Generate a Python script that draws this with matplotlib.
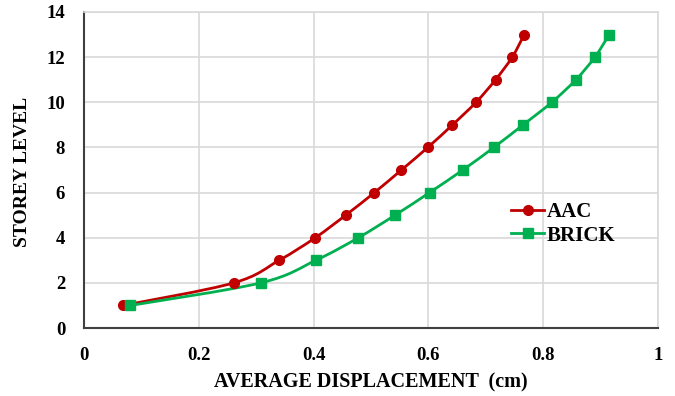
import matplotlib.pyplot as plt
import numpy as np
from matplotlib.path import Path
from matplotlib.patches import PathPatch
from matplotlib.lines import Line2D

plt.rcParams['font.family'] = 'Liberation Serif'
plt.rcParams['font.weight'] = 'bold'

storey = [1, 2, 3, 4, 5, 6, 7, 8, 9, 10, 11, 12, 13]
aac = [0.068, 0.261, 0.340, 0.403, 0.456, 0.506, 0.553, 0.599, 0.642, 0.683, 0.717, 0.746, 0.767]
brick = [0.081, 0.308, 0.404, 0.478, 0.542, 0.602, 0.660, 0.714, 0.765, 0.815, 0.857, 0.890, 0.915]

red = '#C00000'
green = '#00B050'


def smooth_path(x, y):
    # cardinal spline through the points, drawn as cubic bezier segments
    x = np.asarray(x, float)
    y = np.asarray(y, float)
    n = len(x)
    verts = [(x[0], y[0])]
    codes = [Path.MOVETO]
    t = 1 / 6
    for i in range(n - 1):
        x0, y0 = (x[i - 1], y[i - 1]) if i > 0 else (x[i], y[i])
        x3, y3 = (x[i + 2], y[i + 2]) if i + 2 < n else (x[i + 1], y[i + 1])
        c1 = (x[i] + (x[i + 1] - x0) * t, y[i] + (y[i + 1] - y0) * t)
        c2 = (x[i + 1] - (x3 - x[i]) * t, y[i + 1] - (y3 - y[i]) * t)
        verts += [c1, c2, (x[i + 1], y[i + 1])]
        codes += [Path.CURVE4] * 3
    return Path(verts, codes)


fig = plt.figure(figsize=(6.75, 3.96), dpi=100)
ax = fig.add_axes([0.1244, 0.1717, 0.8504, 0.798])

for xs, c, m, ms in [(aac, red, 'o', 7), (brick, green, 's', 6.5)]:
    ax.add_patch(PathPatch(smooth_path(xs, storey), facecolor='none', edgecolor=c, lw=2, zorder=3))
    ax.plot(xs, storey, ls='none', marker=m, ms=ms, color=c, zorder=4)

ax.set_xlim(0, 1)
ax.set_ylim(0, 14)
ax.set_xticks(np.arange(0, 1.01, 0.2))
ax.set_xticklabels(['0', '0.2', '0.4', '0.6', '0.8', '1'])
ax.set_yticks(range(0, 15, 2))
ax.grid(True, color='#D9D9D9', lw=1.2)
ax.set_axisbelow(True)
ax.tick_params(length=0, labelsize=13.5)
ax.tick_params(axis='x', pad=14)
ax.tick_params(axis='y', pad=13.5)
for s in ['top', 'right']:
    ax.spines[s].set_color('#D9D9D9')
    ax.spines[s].set_linewidth(1.2)
for s in ['left', 'bottom']:
    ax.spines[s].set_color('#404040')
    ax.spines[s].set_linewidth(1.5)

ax.set_xlabel('AVERAGE DISPLACEMENT  (cm)', fontsize=14.5, fontweight='bold')
ax.set_ylabel('STOREY LEVEL', fontsize=14, fontweight='bold')
ax.xaxis.set_label_coords(0.5, -0.142)
ax.yaxis.set_label_coords(-0.093, 0.495)

handles = [Line2D([], [], color=red, lw=2, marker='o', ms=7),
           Line2D([], [], color=green, lw=2, marker='s', ms=6.5)]
ax.legend(handles, ['AAC', 'BRICK'], loc='center left', bbox_to_anchor=(0.744, 0.329),
          frameon=False, fontsize=15, handlelength=1.6, handletextpad=0.1,
          labelspacing=0.15, borderaxespad=0, borderpad=0)

fig.savefig('out.png', dpi=100)
